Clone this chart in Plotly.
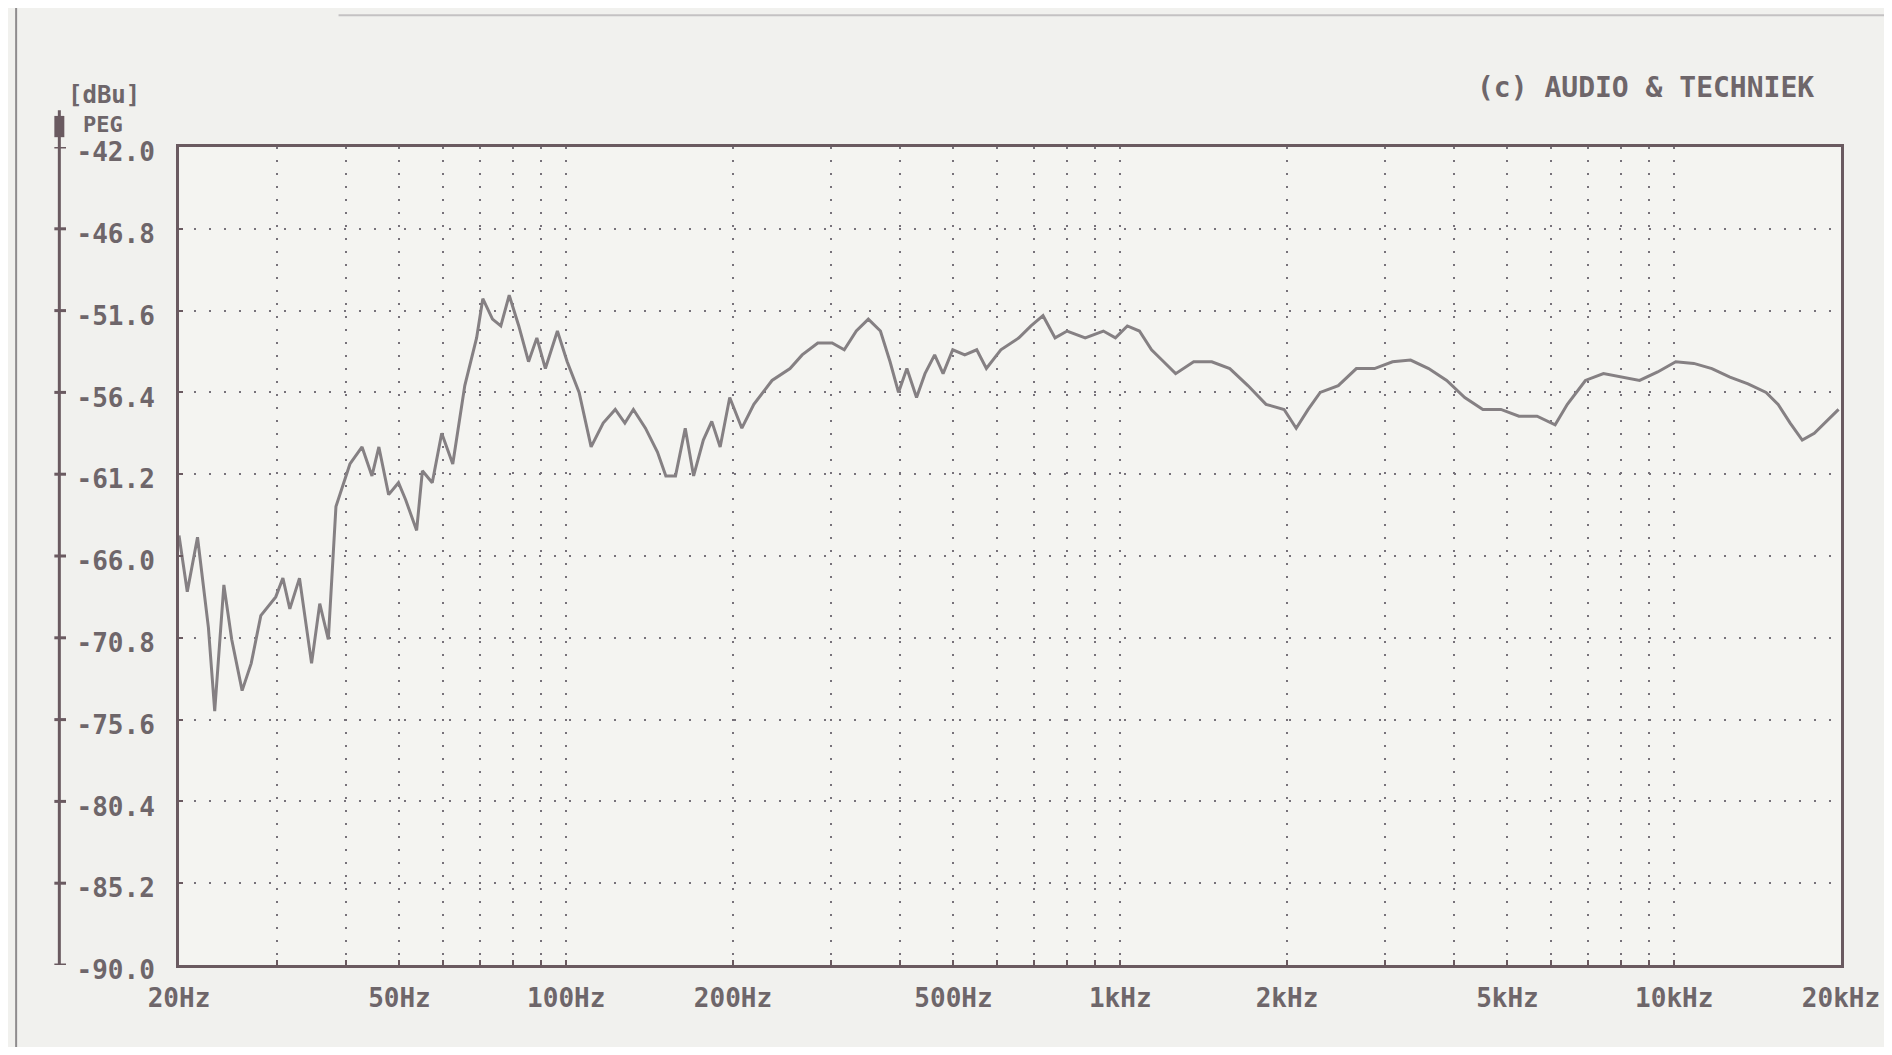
import plotly.graph_objects as go

# ---- data ----
freq_hz = [20.0, 20.7, 21.6, 22.6, 23.2, 24.1, 24.9, 26.0, 27.0, 28.1, 29.9, 30.8, 31.7, 33.0,
           34.7, 35.9, 37.2, 38.4, 40.7, 42.8, 44.6, 45.9, 47.8, 49.8, 51.3, 53.7, 55.0, 57.3,
           59.6, 62.4, 65.6, 68.9, 70.7, 73.6, 76.2, 78.9, 82.1, 85.5, 88.5, 91.7, 96.4, 100.4,
           105.5, 110.9, 116.6, 122.6, 127.6, 132.2, 139.0, 146.1, 151.3, 157.5, 164.0, 169.8,
           176.8, 183.1, 189.6, 197.3, 207.5, 218.1, 235.2, 253.5, 266.6, 284.5, 302.0, 317.6,
           333.9, 351.0, 369.1, 384.2, 397.9, 412.0, 428.9, 444.2, 462.4, 478.9, 498.5, 524.1,
           550.8, 573.3, 608.8, 656.3, 690.1, 725.5, 762.8, 801.9, 864.6, 932.3, 980.2, 1030,
           1083, 1139, 1198, 1259, 1357, 1463, 1577, 1700, 1833, 1976, 2078, 2184, 2296, 2475,
           2668, 2877, 3101, 3343, 3603, 3884, 4187, 4514, 4866, 5245, 5655, 6096, 6413, 6913,
           7452, 8033, 8659, 9335, 10063, 10848, 11694, 12606, 13589, 14649, 15401, 16192,
           17024, 17898, 18817, 19800]
level_dbu = [-64.8, -68.1, -64.9, -70.2, -75.1, -67.7, -70.9, -73.9, -72.3, -69.5, -68.4, -67.3,
             -69.1, -67.3, -72.3, -68.8, -70.9, -63.1, -60.6, -59.6, -61.3, -59.6, -62.4, -61.7,
             -62.7, -64.5, -61.0, -61.7, -58.8, -60.6, -56.0, -53.2, -50.9, -52.1, -52.5, -50.7,
             -52.5, -54.6, -53.2, -55.0, -52.8, -54.6, -56.4, -59.6, -58.2, -57.4, -58.2, -57.4,
             -58.5, -59.9, -61.3, -61.3, -58.5, -61.3, -59.2, -58.1, -59.6, -56.7, -58.5, -57.1,
             -55.7, -55.0, -54.2, -53.5, -53.5, -53.9, -52.8, -52.1, -52.8, -54.6, -56.4, -55.0,
             -56.7, -55.3, -54.2, -55.3, -53.9, -54.2, -53.9, -55.0, -53.9, -53.2, -52.5, -51.9,
             -53.2, -52.8, -53.2, -52.8, -53.2, -52.5, -52.8, -53.9, -54.6, -55.3, -54.6, -54.6,
             -55.0, -56.0, -57.1, -57.4, -58.5, -57.4, -56.4, -56.0, -55.0, -55.0, -54.6, -54.5,
             -55.0, -55.7, -56.7, -57.4, -57.4, -57.8, -57.8, -58.3, -57.1, -55.7, -55.3, -55.5,
             -55.7, -55.2, -54.6, -54.7, -55.0, -55.5, -55.9, -56.4, -57.1, -58.2, -59.2, -58.8,
             -58.1, -57.4]

y_ticks = [-42.0, -46.8, -51.6, -56.4, -61.2, -66.0, -70.8, -75.6, -80.4, -85.2, -90.0]
x_grid = [20, 30, 40, 50, 60, 70, 80, 90, 100, 200, 300, 400, 500, 600, 700, 800, 900,
          1000, 2000, 3000, 4000, 5000, 6000, 7000, 8000, 9000, 10000, 20000]
x_labels = {20: "20Hz", 50: "50Hz", 100: "100Hz", 200: "200Hz", 500: "500Hz",
            1000: "1kHz", 2000: "2kHz", 5000: "5kHz", 10000: "10kHz", 20000: "20kHz"}
unit_label = "[dBu]"
ref_label = "PEG"
credit = "(c) AUDIO & TECHNIEK"

# ---- styling ----
INK = "#6e666a"
FRAME = "#6a5a60"
CURVE = "#858083"
GRID = "#77727a"
FONT = dict(family="DejaVu Sans Mono", size=26, color=INK, weight="bold")

fig = go.Figure()
fig.add_trace(go.Scatter(x=freq_hz, y=level_dbu, mode="lines",
                         line=dict(color=CURVE, width=3), hoverinfo="skip",
                         showlegend=False))

fig.update_xaxes(type="log", range=[1.30103, 4.30103],
                 tickmode="array", tickvals=x_grid,
                 ticktext=[x_labels.get(v, "") for v in x_grid],
                 showgrid=True, gridcolor=GRID, gridwidth=1.5, griddash="2px,11px",
                 showline=True, linecolor=FRAME, linewidth=3, mirror=True,
                 ticks="inside", ticklen=5, tickcolor=FRAME, tickwidth=2,
                 tickfont=FONT, ticklabelstandoff=8, ticklabeloverflow="allow",
                 zeroline=False)
fig.update_yaxes(range=[-90, -42], tickmode="array", tickvals=y_ticks,
                 ticktext=[f"{v:.1f}" for v in y_ticks],
                 showgrid=True, gridcolor=GRID, gridwidth=1.5, griddash="2px,13px",
                 showline=True, linecolor=FRAME, linewidth=3, mirror=True,
                 ticks="inside", ticklen=4, tickcolor=FRAME, tickwidth=2,
                 tickfont=FONT, ticklabelstandoff=16, ticklabelshift=5, zeroline=False)

# separate scale bar to the left of the labels
bar_x = -0.072
fig.add_shape(type="line", xref="paper", yref="y domain", x0=bar_x, x1=bar_x,
              y0=0, y1=1.045, line=dict(color=FRAME, width=3))
fig.add_shape(type="rect", xref="paper", yref="y domain", x0=bar_x - 0.003, x1=bar_x + 0.003,
              y0=1.012, y1=1.038, fillcolor=FRAME, line=dict(width=0))
for v in y_ticks:
    fig.add_shape(type="line", xref="paper", yref="y", x0=bar_x - 0.003, x1=bar_x + 0.004,
                  y0=v, y1=v, line=dict(color=FRAME, width=3))

# scan page borders
fig.add_shape(type="line", xref="paper", yref="paper", x0=-0.098, x1=-0.098,
              y0=-0.11, y1=1.18, line=dict(color="#8f8c8e", width=2))
fig.add_shape(type="line", xref="paper", yref="paper", x0=0.096, x1=1.032,
              y0=1.161, y1=1.161, line=dict(color="#c4c2c3", width=2))

fig.add_annotation(text=unit_label, xref="paper", yref="paper", x=-0.068, y=1.064,
                   xanchor="left", yanchor="middle", showarrow=False,
                   font=dict(FONT, size=24))
fig.add_annotation(text=ref_label, xref="paper", yref="paper", x=-0.059, y=1.028,
                   xanchor="left", yanchor="middle", showarrow=False,
                   font=dict(FONT, size=22))
fig.add_annotation(text=credit, xref="paper", yref="paper", x=0.985, y=1.073,
                   xanchor="right", yanchor="middle", showarrow=False,
                   font=dict(FONT, size=28))

# figure sits inside the page's 8px body margin, so size and margins account for it
fig.update_layout(width=1884, height=1039,
                  margin=dict(l=171, r=44, t=139, b=82),
                  paper_bgcolor="#f1f1ee", plot_bgcolor="#f4f4f1",
                  showlegend=False)

fig.write_html("out.html")
